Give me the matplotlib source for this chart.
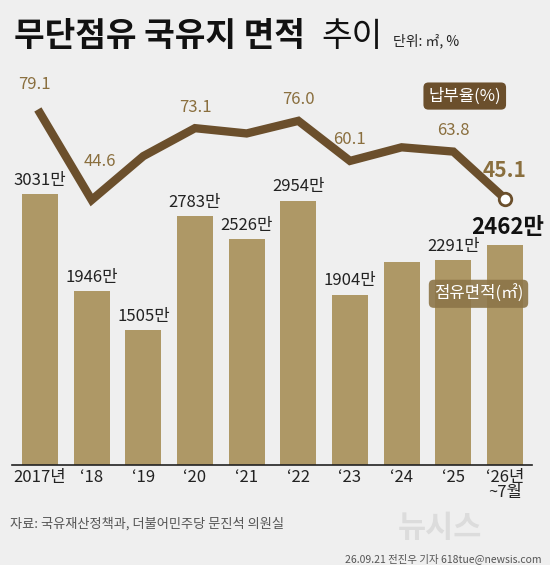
import matplotlib
matplotlib.use("Agg")
import matplotlib.pyplot as plt

plt.rcParams['font.family'] = ['Noto Sans CJK KR', 'DejaVu Sans']

years = ["2017년", "‘18", "‘19", "‘20", "‘21", "‘22", "‘23", "‘24", "‘25", "‘26년\n~7월"]
area = [3031, 1946, 1505, 2783, 2526, 2954, 1904, 2270, 2291, 2462]
area_labels = ["3031만", "1946만", "1505만", "2783만", "2526만", "2954만", "1904만", "", "2291만", "2462만"]
rate = [79.1, 44.6, 62.0, 73.1, 71.0, 76.0, 60.1, 65.5, 63.8, 45.1]
rate_labels = ["79.1", "44.6", "", "73.1", "", "76.0", "60.1", "", "63.8", "45.1"]

BG = "#efefef"
BAR = "#ae9866"
LINE = "#6b4f2c"

fig = plt.figure(figsize=(5.5, 5.65), dpi=100, facecolor=BG)
ax = fig.add_axes([0.022, 0.177, 0.945, 0.717])
ax.set_facecolor("none")
x = list(range(len(years)))
ax.bar(x, area, width=0.7, color=BAR, zorder=2)
ax.set_xlim(-0.54, 9.52)
ax.set_ylim(0, 4530)
for s in ["top", "right", "left"]:
    ax.spines[s].set_visible(False)
ax.spines["bottom"].set_color("#222222")
ax.spines["bottom"].set_linewidth(1.2)
ax.set_yticks([])
ax.set_xticks(x)
ax.set_xticklabels(years, fontsize=12, color="#222222", linespacing=0.8, va="top")
ax.tick_params(axis="x", length=0, pad=3)
for i, (v, l) in enumerate(zip(area, area_labels)):
    if not l:
        continue
    if i == len(area) - 1:
        ax.text(i + 0.05, v + 60, l, ha="center", va="bottom", fontsize=16, fontweight="bold", color="#111111")
    else:
        ax.text(i, v + 60, l, ha="center", va="bottom", fontsize=12, color="#222222")

ax2 = ax.twinx()
ax2.set_ylim(-60.6, 100.2)
ax2.axis("off")
ax2.plot(x, rate, color=LINE, lw=6, solid_joinstyle="miter", zorder=3)
ax2.plot([x[-1]], [rate[-1]], marker="o", ms=9, mfc="white", mec=LINE, mew=2, zorder=4)
offsets = {0: (-0.1, 8), 1: (0.15, 12), 3: (0, 5), 5: (0, 5), 6: (0, 5), 8: (0, 5), 9: (0, 7)}
for i, (v, l) in enumerate(zip(rate, rate_labels)):
    if not l:
        continue
    dx, dy = offsets[i]
    if i == len(rate) - 1:
        ax2.text(i + dx, v + dy, l, ha="center", va="bottom", fontsize=15, fontweight="bold", color="#8a6f3e")
    else:
        ax2.text(i + dx, v + dy, l, ha="center", va="bottom", fontsize=12, color="#8a6f3e")

fig.text(0.845, 0.830, "납부율(%)", ha="center", va="center", fontsize=12, color="white",
         bbox=dict(boxstyle="round,pad=0.3", fc=LINE, ec="none"))
fig.text(0.87, 0.480, "점유면적(㎡)", ha="center", va="center", fontsize=12, color="white",
         bbox=dict(boxstyle="round,pad=0.3", fc="#8c7548", ec="none", alpha=0.9))

fig.text(0.025, 0.935, "무단점유 국유지 면적", fontsize=24, fontweight="bold", color="#111111", va="center")
fig.text(0.585, 0.935, "추이", fontsize=24, color="#111111", va="center")
fig.text(0.715, 0.928, "단위: ㎡, %", fontsize=10, color="#222222", va="center")

fig.text(0.018, 0.073, "자료: 국유재산정책과, 더불어민주당 문진석 의원실", fontsize=9.5, color="#555555", va="center")
fig.text(0.985, 0.012, "26.09.21 전진우 기자 618tue@newsis.com", fontsize=7.5, color="#555555", ha="right", va="center")
fig.text(0.80, 0.065, "뉴시스", fontsize=22, fontweight="bold", color="#dcdcdc", ha="center", va="center")

fig.savefig("out.png", dpi=100, facecolor=BG)
